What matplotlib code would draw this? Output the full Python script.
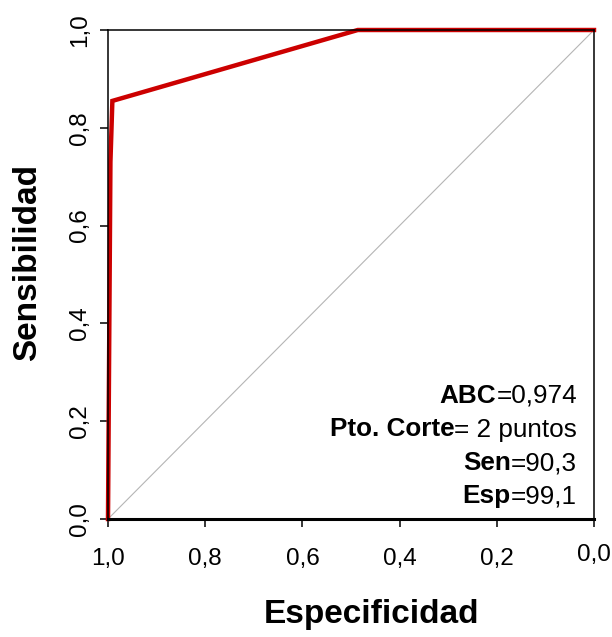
import matplotlib
matplotlib.use("Agg")
import matplotlib.pyplot as plt
import matplotlib.transforms as mtransforms

plt.rcParams['font.family'] = ['Liberation Sans', 'DejaVu Sans']

# ROC curve data (specificity, sensitivity)
especificidad = [1.0, 0.995, 0.991, 0.486, 0.0]
sensibilidad = [0.0, 0.73, 0.855, 1.0, 1.0]

tick_values = [1.0, 0.8, 0.6, 0.4, 0.2, 0.0]
tick_labels = ["1,0", "0,8", "0,6", "0,4", "0,2", "0,0"]

annot_bold = ["ABC", "Pto. Corte", "Sen", "Esp"]
annot_rest = ["=0,974", "= 2 puntos", "=90,3", "=99,1"]

W, H = 612, 637
fig = plt.figure(figsize=(W/100, H/100), dpi=100)
ax = fig.add_axes([108/W, 1-519/H, (594-108)/W, (519-30)/H])

ax.plot([1, 0], [0, 1], color="#b5b5b5", lw=0.8, zorder=1)
ax.plot(especificidad, sensibilidad, color="#cc0000", lw=3.2, zorder=2,
        solid_joinstyle="miter", clip_on=False)

ax.set_xlim(1.0, 0.0)
ax.set_ylim(0.0, 1.0)
ax.set_xticks(tick_values)
ax.set_xticklabels(tick_labels)
ax.set_yticks(tick_values)
ax.set_yticklabels(tick_labels, rotation=90, va="center")
ax.tick_params(axis="both", direction="out", length=6, width=1.1, labelsize=17.5, colors="black")
ax.tick_params(axis="x", pad=15)
ax.tick_params(axis="y", pad=6.5)
for s in ax.spines.values():
    s.set_linewidth(1.1)
ax.spines['bottom'].set_linewidth(2.2)

# last x tick label slightly raised as in reference
lbl = ax.get_xticklabels()[-1]
lbl.set_transform(lbl.get_transform() + mtransforms.ScaledTranslation(0, 4/100, fig.dpi_scale_trans))

fig.text(371/W, 1-615/H, "Especificidad", fontsize=24, fontweight="bold",
         ha="center", va="center")
fig.text(28/W, 1-263/H, "Sensibilidad", fontsize=24, fontweight="bold",
         ha="center", va="center", rotation=90)

# annotation lines, right-aligned
baselines = [403, 436.5, 470, 503.5]
fig.canvas.draw()
renderer = fig.canvas.get_renderer()
for b, r, y in zip(annot_bold, annot_rest, baselines):
    t = fig.text(577/W, 1-y/H, r, fontsize=18.8, ha="right", va="baseline")
    bb = t.get_window_extent(renderer=renderer)
    fig.text(bb.x0/W, 1-y/H, b, fontsize=18.8,
             fontweight="bold", ha="right", va="baseline")

fig.savefig("out.png", dpi=100)
